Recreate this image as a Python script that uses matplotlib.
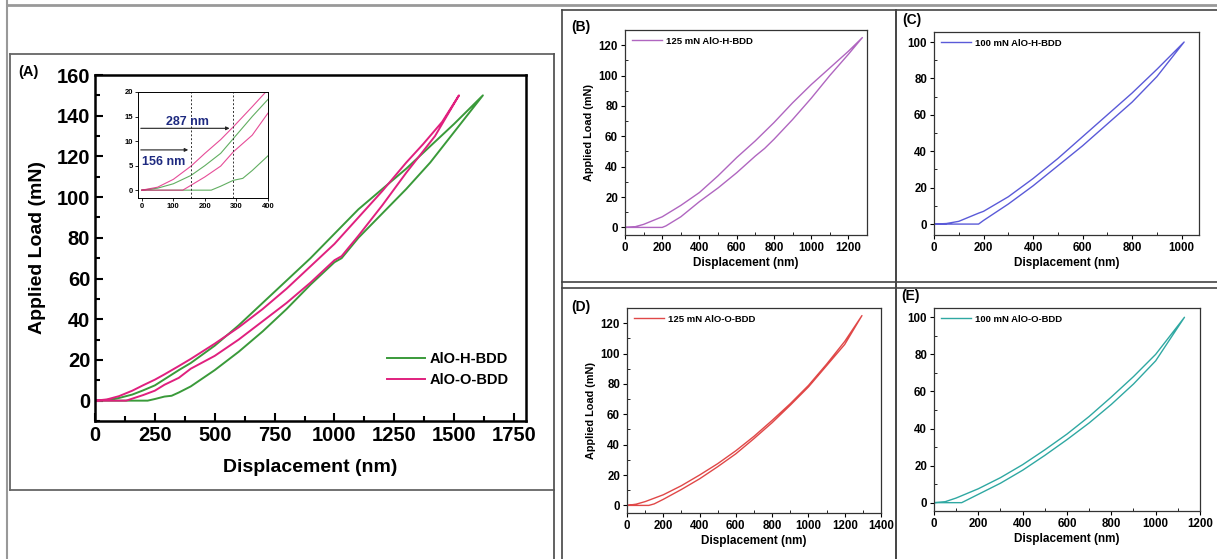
import numpy as np
import matplotlib.pyplot as plt
from matplotlib.lines import Line2D
from matplotlib.ticker import MultipleLocator

plt.rcParams['font.family'] = ['Liberation Sans', 'DejaVu Sans']
plt.rcParams['font.weight'] = 'bold'

W, H = 1217, 559

# ---- panel A data (load / unload branches) ----
a_h_load_x = [0, 50, 100, 156, 200, 250, 290, 350, 400, 500, 600, 700, 800, 900, 1000, 1100, 1200, 1300, 1400, 1500, 1620]
a_h_load_y = [0, 0.4, 1.3, 3, 5, 7.5, 10.5, 15, 18.5, 27, 37, 48, 59, 70, 82, 94, 104, 114, 125, 136, 150]
a_h_unload_x = [0, 220, 250, 290, 320, 350, 400, 500, 600, 700, 800, 900, 1000, 1030, 1100, 1200, 1300, 1400, 1500, 1620]
a_h_unload_y = [0, 0, 0.8, 2, 2.4, 4, 7, 15, 24, 34, 45, 57, 68, 70, 80, 92, 104, 117, 132, 150]
a_o_load_x = [0, 50, 100, 156, 200, 250, 290, 350, 400, 500, 600, 700, 800, 900, 1000, 1100, 1200, 1300, 1370, 1450, 1520]
a_o_load_y = [0, 0.6, 2.2, 4.9, 7.5, 10.3, 12.9, 17, 20.5, 28, 36, 45, 55, 66, 77, 90, 103, 117, 126, 137, 150]
a_o_unload_x = [0, 130, 156, 200, 250, 290, 350, 400, 500, 600, 700, 800, 900, 1000, 1030, 1100, 1200, 1300, 1380, 1420, 1520]
a_o_unload_y = [0, 0, 1, 2.7, 4.9, 7.8, 11.2, 15.7, 22, 30, 39, 48, 58, 69, 71, 81, 96, 112, 124, 130, 150]
a_marks = [156, 290]

# ---- panels B-E ----
b_load_x = [0, 50, 100, 200, 300, 400, 500, 600, 700, 800, 900, 1000, 1100, 1200, 1275]
b_load_y = [0, 0.3, 2, 7, 14.5, 23, 34, 46, 57, 69, 82, 94, 105, 116, 125]
b_unload_x = [0, 200, 220, 300, 400, 500, 600, 700, 750, 800, 900, 1000, 1100, 1200, 1275]
b_unload_y = [0, 0, 1, 7, 17, 26, 36, 47, 52, 58, 71, 85, 100, 114, 125]

c_load_x = [0, 50, 100, 180, 200, 300, 400, 500, 600, 700, 800, 900, 1010]
c_load_y = [0, 0.3, 1.5, 6, 7, 15, 25, 36, 48, 60, 72, 85, 100]
c_unload_x = [0, 180, 200, 300, 400, 500, 600, 700, 800, 900, 1010]
c_unload_y = [0, 0, 2, 11, 21, 32, 43, 55, 67, 81, 100]

d_load_x = [0, 50, 100, 200, 300, 400, 500, 600, 700, 800, 900, 1000, 1100, 1200, 1295]
d_load_y = [0, 0.8, 2.5, 7, 13, 20, 27.5, 36, 45.5, 56, 67, 79, 93, 108, 125]
d_unload_x = [0, 120, 150, 200, 300, 400, 500, 600, 700, 800, 900, 1000, 1100, 1200, 1295]
d_unload_y = [0, 0, 1, 4, 10.5, 17.5, 25.5, 34, 44, 54.5, 66, 78, 92, 106, 125]

e_load_x = [0, 50, 100, 200, 300, 400, 500, 600, 700, 800, 900, 1000, 1130]
e_load_y = [0, 0.5, 2.5, 7.5, 13.5, 20.5, 28.5, 37, 46.5, 57, 68, 80, 100]
e_unload_x = [0, 125, 200, 300, 400, 500, 600, 700, 800, 900, 1000, 1130]
e_unload_y = [0, 0, 4.5, 10.5, 17.5, 25.5, 34, 43, 53, 64, 76.5, 100]

GREEN = '#3a9a3a'
PINK = '#e0207e'


def loop(lx, ly, ux, uy):
    return list(lx) + list(ux[::-1]), list(ly) + list(uy[::-1])


def axes_px(fig, x0, y0, x1, y1):
    return fig.add_axes([x0 / W, 1 - y1 / H, (x1 - x0) / W, (y1 - y0) / H])


def line_px(fig, x0, y0, x1, y1, color='#555555', lw=1.2):
    fig.add_artist(Line2D([x0 / W, x1 / W], [1 - y0 / H, 1 - y1 / H],
                          transform=fig.transFigure, color=color, lw=lw))


fig = plt.figure(figsize=(W / 100, H / 100), dpi=100)

# frames
line_px(fig, 7, 0, 7, 559, '#999999', 1.5)
line_px(fig, 7, 5, 1217, 5, '#999999', 2)
line_px(fig, 10, 54, 554, 54, '#666666', 1.3)
line_px(fig, 10, 54, 10, 490, '#666666', 1.3)
line_px(fig, 10, 490, 554, 490, '#666666', 1.3)
line_px(fig, 554, 54, 554, 559, '#555555', 1.3)
line_px(fig, 562, 10, 1217, 10, '#444444', 1.2)
line_px(fig, 562, 10, 562, 559, '#444444', 1.2)
line_px(fig, 896, 10, 896, 559, '#444444', 1.4)
line_px(fig, 562, 282, 1217, 282, '#444444', 1.2)
line_px(fig, 562, 288, 1217, 288, '#444444', 1.2)

# ---- panel A ----
ax = axes_px(fig, 95, 75, 526, 421)
x, y = loop(a_h_load_x, a_h_load_y, a_h_unload_x, a_h_unload_y)
ax.plot(x, y, color=GREEN, lw=1.4, label='AlO-H-BDD')
x, y = loop(a_o_load_x, a_o_load_y, a_o_unload_x, a_o_unload_y)
ax.plot(x, y, color=PINK, lw=1.4, label='AlO-O-BDD')
ax.set_xlim(0, 1800)
ax.set_ylim(-10, 160)
ax.set_xticks(np.arange(0, 1751, 250))
ax.set_yticks(np.arange(0, 161, 20))
ax.xaxis.set_minor_locator(MultipleLocator(125))
ax.yaxis.set_minor_locator(MultipleLocator(10))
ax.tick_params(which='both', direction='in', labelsize=14.5, width=1.5)
ax.tick_params(which='major', length=6)
ax.tick_params(which='minor', length=3.5)
for s in ax.spines.values():
    s.set_linewidth(1.8)
ax.set_xlabel('Displacement (nm)', fontsize=14, fontweight='bold', labelpad=10)
ax.set_ylabel('Applied Load (mN)', fontsize=14, fontweight='bold', labelpad=8)
ax.legend(loc='lower right', bbox_to_anchor=(0.99, 0.06), frameon=False,
          fontsize=10.5, handlelength=2.6, handletextpad=0.3, labelspacing=0.5)
fig.text(18 / W, 1 - 76 / H, '(A)', fontsize=10.5, fontweight='bold')

# inset
ins = axes_px(fig, 138, 92, 268, 198)
x, y = loop(a_h_load_x, a_h_load_y, a_h_unload_x, a_h_unload_y)
ins.plot(x, y, color=GREEN, lw=0.8, alpha=0.8)
x, y = loop(a_o_load_x, a_o_load_y, a_o_unload_x, a_o_unload_y)
ins.plot(x, y, color=PINK, lw=0.8, alpha=0.8)
ins.set_xlim(-12, 400)
ins.set_ylim(-1.6, 20)
ins.set_xticks([0, 100, 200, 300, 400])
ins.set_yticks([0, 5, 10, 15, 20])
ins.tick_params(labelsize=5.5, length=2, width=0.6, pad=1.5)
for s in ins.spines.values():
    s.set_linewidth(0.7)
for m in a_marks:
    ins.axvline(m, color='#333333', ls=(0, (2, 2)), lw=0.7)
ins.annotate('', xy=(287, 12.6), xytext=(-12, 12.6),
             arrowprops=dict(arrowstyle='-|>', color='#222222', lw=0.8, mutation_scale=5))
ins.annotate('', xy=(156, 8.2), xytext=(-12, 8.2),
             arrowprops=dict(arrowstyle='-|>', color='#222222', lw=0.8, mutation_scale=5))
ins.text(146, 13.9, '287 nm', color='#1e2a80', fontsize=9, fontweight='bold', ha='center', va='center')
ins.text(70, 5.8, '156 nm', color='#1e2a80', fontsize=9, fontweight='bold', ha='center', va='center')

# ---- panels B-E ----
panels = [
    ((625, 30, 867, 235), (b_load_x, b_load_y, b_unload_x, b_unload_y), '#b066c0',
     '125 mN AlO-H-BDD', (0, 1300), (-5, 130), np.arange(0, 1201, 200), np.arange(0, 121, 20), True,
     '(B)', (571, 31)),
    ((934, 32, 1199, 235), (c_load_x, c_load_y, c_unload_x, c_unload_y), '#5a5ad8',
     '100 mN AlO-H-BDD', (0, 1070), (-6, 105.5), np.arange(0, 1001, 200), np.arange(0, 101, 20), False,
     '(C)', (902, 24)),
    ((627, 308, 881, 513), (d_load_x, d_load_y, d_unload_x, d_unload_y), '#e04848',
     '125 mN AlO-O-BDD', (0, 1400), (-5, 130), np.arange(0, 1401, 200), np.arange(0, 121, 20), True,
     '(D)', (571, 311)),
    ((934, 308, 1200, 511), (e_load_x, e_load_y, e_unload_x, e_unload_y), '#2fa8a2',
     '100 mN AlO-O-BDD', (0, 1200), (-4.5, 105), np.arange(0, 1201, 200), np.arange(0, 101, 20), False,
     '(E)', (901, 300)),
]

for box, data, col, lab, xl, yl, xt, yt, has_ylab, tag, tpos in panels:
    a = axes_px(fig, *box)
    x, y = loop(*data)
    a.plot(x, y, color=col, lw=1.0, label=lab)
    a.set_xlim(*xl)
    a.set_ylim(*yl)
    a.set_xticks(xt)
    a.set_yticks(yt)
    a.xaxis.set_minor_locator(MultipleLocator(100))
    a.yaxis.set_minor_locator(MultipleLocator(10))
    a.tick_params(which='major', direction='out', length=3, width=0.8, labelsize=8.3, pad=2)
    a.tick_params(which='minor', direction='in', length=2, width=0.6)
    for s in a.spines.values():
        s.set_linewidth(0.9)
        s.set_color('#333333')
    a.set_xlabel('Displacement (nm)', fontsize=8.5, fontweight='bold', labelpad=2)
    if has_ylab:
        a.set_ylabel('Applied Load (mN)', fontsize=7.8, fontweight='bold', labelpad=3)
    a.legend(loc='upper left', frameon=False, fontsize=6.8, handlelength=3.2,
             handletextpad=0.4, borderaxespad=0.3)
    fig.text(tpos[0] / W, 1 - tpos[1] / H, tag, fontsize=10, fontweight='bold')

fig.savefig('out.png', dpi=100)
